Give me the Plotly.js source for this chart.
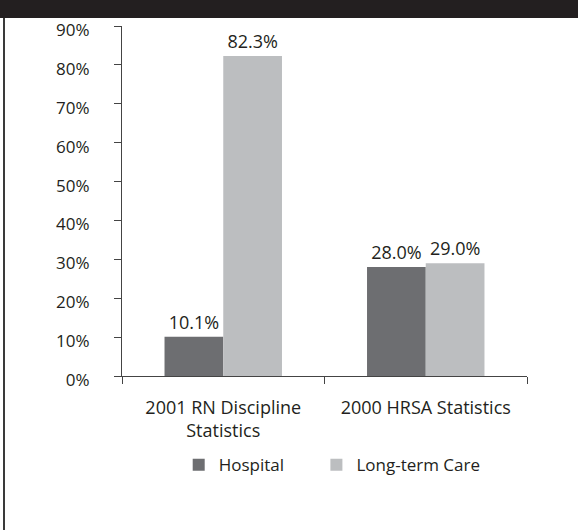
<!DOCTYPE html>
<html>
<head>
<meta charset="utf-8">
<script src="https://cdn.plot.ly/plotly-3.0.1.min.js"></script>
<style>
  html, body { margin: 0; padding: 0; background: #fff; }
  #wrap { position: relative; width: 578px; height: 530px; overflow: hidden; }
  #chart { position: absolute; left: 0; top: 0; width: 578px; height: 530px; }
  #topbar { position: absolute; left: 0; top: 0; width: 578px; height: 18px; background: #231f20; pointer-events: none; }
  #leftline { position: absolute; left: 3px; top: 18px; width: 2px; height: 512px; background: #3a3a3a; pointer-events: none; }
</style>
</head>
<body>
<div id="wrap">
  <div id="chart"></div>
  <div id="topbar"></div>
  <div id="leftline"></div>
</div>
<script>
var categories = ["2001 RN Discipline<br>Statistics", "2000 HRSA Statistics"];
var hospitalValues = [10.1, 28.0];
var longTermCareValues = [82.3, 29.0];
var seriesNames = ["Hospital", "Long-term Care"];
var yTickValues = [0, 10, 20, 30, 40, 50, 60, 70, 80, 90];
var yTickLabels = ["0%", "10%", "20%", "30%", "40%", "50%", "60%", "70%", "80%", "90%"];

var fontFamily = "'Open Sans', 'Noto Sans', sans-serif";
var textColor = "#231f20";
var fontSize = 18;

function fmt(v) { return v.toFixed(1) + "%"; }

var traces = [
  {
    type: "bar",
    name: seriesNames[0],
    legend: "legend",
    x: categories,
    y: hospitalValues,
    text: hospitalValues.map(fmt),
    textposition: "outside",
    cliponaxis: false,
    textfont: { family: fontFamily, size: fontSize, color: textColor },
    marker: { color: "#6d6e71" },
    hoverinfo: "skip"
  },
  {
    type: "bar",
    name: seriesNames[1],
    legend: "legend2",
    x: categories,
    y: longTermCareValues,
    text: longTermCareValues.map(fmt),
    textposition: "outside",
    cliponaxis: false,
    textfont: { family: fontFamily, size: fontSize, color: textColor },
    marker: { color: "#bcbec0" },
    hoverinfo: "skip"
  }
];

var legendBase = {
  orientation: "h",
  xanchor: "left",
  y: -0.255,
  yanchor: "middle",
  font: { family: fontFamily, size: 17, color: textColor },
  bgcolor: "rgba(0,0,0,0)",
  borderwidth: 0
};

var layout = {
  width: 578,
  height: 530,
  margin: { l: 122, r: 51, t: 26, b: 154 },
  paper_bgcolor: "#ffffff",
  plot_bgcolor: "#ffffff",
  font: { family: fontFamily, size: fontSize, color: textColor },
  barmode: "group",
  bargap: 0.42,
  bargroupgap: 0,
  showlegend: true,
  legend: Object.assign({}, legendBase, { x: 0.14 }),
  legend2: Object.assign({}, legendBase, { x: 0.48 }),
  xaxis: {
    type: "category",
    showgrid: false,
    zeroline: false,
    showline: true,
    linecolor: "#444",
    linewidth: 1,
    ticks: "outside",
    tickson: "boundaries",
    ticklen: 7,
    tickcolor: "#444",
    tickfont: { family: fontFamily, size: fontSize, color: textColor },
    ticklabelstandoff: 15,
    fixedrange: true
  },
  yaxis: {
    range: [0, 90],
    tickmode: "array",
    tickvals: yTickValues,
    ticktext: yTickLabels,
    showgrid: false,
    zeroline: false,
    showline: true,
    linecolor: "#444",
    linewidth: 1,
    ticks: "outside",
    ticklen: 7,
    tickcolor: "#444",
    tickfont: { family: fontFamily, size: 17, color: textColor },
    ticklabelstandoff: 21,
    ticklabelshift: 4,
    fixedrange: true
  }
};

Plotly.newPlot("chart", traces, layout, { displayModeBar: false, staticPlot: true });
</script>
</body>
</html>
